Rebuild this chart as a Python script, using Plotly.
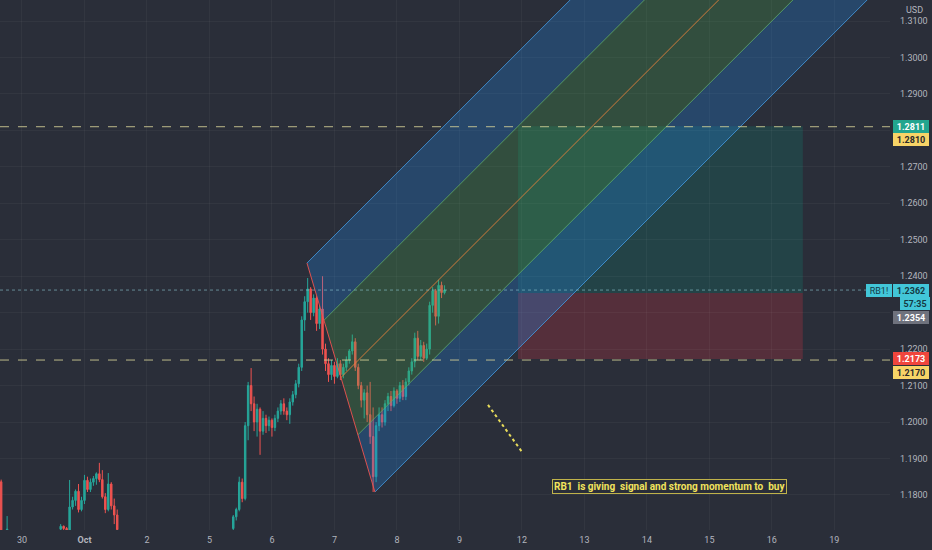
import plotly.graph_objects as go

# ---------------- data ----------------
# x axis = hourly bar index (about 21 bars per trading day)
day_ticks = [0, 21, 42, 63, 84, 105, 126, 147, 168, 189, 210, 231, 252, 273]
day_labels = ["30", "<b>Oct</b>", "2", "5", "6", "7", "8", "9", "12", "13", "14", "15", "16", "19"]

price_ticks = [1.18, 1.19, 1.20, 1.21, 1.22, 1.23, 1.24, 1.25, 1.26, 1.27, 1.28, 1.29, 1.30, 1.31]
price_labels = ["1.1800", "1.1900", "1.2000", "1.2100", "1.2200", "", "1.2400",
                "1.2500", "1.2600", "1.2700", "", "1.2900", "1.3000", "1.3100"]

# segment A (left edge)
bars_a = [-7, -5]
open_a = [1.1836, 1.1700]
high_a = [1.1842, 1.1742]
low_a = [1.1690, 1.1694]
close_a = [1.1700, 1.1706]

# segment B (around Oct 1)
start_b = 13
open_b = [1.1706, 1.1714, 1.1708, 1.1704, 1.1767, 1.1785, 1.1810, 1.1760, 1.1785, 1.1840,
          1.1815, 1.1835, 1.1845, 1.1858, 1.1842, 1.1795, 1.1760, 1.1830, 1.1770, 1.1745]
high_b = [1.1720, 1.1716, 1.1712, 1.1841, 1.1795, 1.1815, 1.1830, 1.1795, 1.1855, 1.1850,
          1.1845, 1.1852, 1.1862, 1.1888, 1.1868, 1.1805, 1.1860, 1.1835, 1.1790, 1.1760]
low_b = [1.1700, 1.1702, 1.1690, 1.1700, 1.1760, 1.1770, 1.1752, 1.1755, 1.1775, 1.1808,
         1.1808, 1.1825, 1.1828, 1.1835, 1.1790, 1.1750, 1.1755, 1.1760, 1.1720, 1.1695]
close_b = [1.1714, 1.1708, 1.1704, 1.1767, 1.1785, 1.1810, 1.1760, 1.1785, 1.1840, 1.1815,
           1.1835, 1.1845, 1.1858, 1.1842, 1.1795, 1.1760, 1.1830, 1.1770, 1.1745, 1.1705]

# segment C (Oct 5 -> Oct 8)
start_c = 71
open_c = [1.1708, 1.1740, 1.1760, 1.1835, 1.1790, 1.1990, 1.2100, 1.2050, 1.2000, 1.2035,
          1.1975, 1.2010, 1.1990, 1.2005, 1.1985, 1.2010, 1.2030, 1.2050, 1.2030, 1.2020,
          1.2055, 1.2075, 1.2105, 1.2150, 1.2280, 1.2330, 1.2365, 1.2300, 1.2340, 1.2270,
          1.2310, 1.2200, 1.2160, 1.2130, 1.2155, 1.2125, 1.2160, 1.2130, 1.2150, 1.2170,
          1.2195, 1.2220, 1.2150, 1.2100, 1.2060, 1.2080, 1.2020, 1.1960, 1.1850, 1.1990,
          1.2020, 1.2000, 1.2050, 1.2070, 1.2045, 1.2085, 1.2065, 1.2100, 1.2070, 1.2110,
          1.2140, 1.2165, 1.2230, 1.2180, 1.2210, 1.2175, 1.2200, 1.2320, 1.2360, 1.2290,
          1.2375, 1.2355]
high_c = [1.1745, 1.1765, 1.1850, 1.1845, 1.2000, 1.2110, 1.2148, 1.2070, 1.2050, 1.2040,
          1.2030, 1.2020, 1.2015, 1.2010, 1.2020, 1.2040, 1.2060, 1.2065, 1.2040, 1.2065,
          1.2085, 1.2115, 1.2160, 1.2290, 1.2345, 1.2395, 1.2370, 1.2350, 1.2345, 1.2320,
          1.2400, 1.2215, 1.2175, 1.2170, 1.2165, 1.2175, 1.2170, 1.2160, 1.2180, 1.2200,
          1.2240, 1.2230, 1.2160, 1.2110, 1.2090, 1.2100, 1.2110, 1.2040, 1.2000, 1.2040,
          1.2040, 1.2060, 1.2080, 1.2085, 1.2095, 1.2090, 1.2110, 1.2115, 1.2120, 1.2150,
          1.2175, 1.2245, 1.2250, 1.2225, 1.2220, 1.2215, 1.2330, 1.2370, 1.2365, 1.2390,
          1.2385, 1.2375]
low_c = [1.1700, 1.1730, 1.1755, 1.1780, 1.1785, 1.1950, 1.2030, 1.1975, 1.1960, 1.1910,
         1.1965, 1.1970, 1.1975, 1.1960, 1.1975, 1.2000, 1.2020, 1.2020, 1.2005, 1.1995,
         1.2045, 1.2065, 1.2095, 1.2140, 1.2250, 1.2300, 1.2280, 1.2290, 1.2250, 1.2255,
         1.2185, 1.2140, 1.2110, 1.2115, 1.2105, 1.2120, 1.2115, 1.2120, 1.2140, 1.2160,
         1.2185, 1.2140, 1.2090, 1.2040, 1.2010, 1.2000, 1.1940, 1.1808, 1.1835, 1.1975,
         1.1985, 1.1990, 1.2030, 1.2030, 1.2040, 1.2050, 1.2055, 1.2060, 1.2060, 1.2100,
         1.2130, 1.2150, 1.2170, 1.2170, 1.2165, 1.2170, 1.2185, 1.2300, 1.2265, 1.2270,
         1.2340, 1.2350]
close_c = [1.1740, 1.1760, 1.1835, 1.1790, 1.1990, 1.2100, 1.2050, 1.2000, 1.2035, 1.1975,
           1.2010, 1.1990, 1.2005, 1.1985, 1.2010, 1.2030, 1.2050, 1.2030, 1.2020, 1.2055,
           1.2075, 1.2105, 1.2150, 1.2280, 1.2330, 1.2365, 1.2300, 1.2340, 1.2270, 1.2310,
           1.2200, 1.2160, 1.2130, 1.2155, 1.2125, 1.2160, 1.2130, 1.2150, 1.2170, 1.2195,
           1.2220, 1.2150, 1.2100, 1.2060, 1.2080, 1.2020, 1.1960, 1.1850, 1.1990, 1.2020,
           1.2000, 1.2050, 1.2070, 1.2045, 1.2085, 1.2065, 1.2100, 1.2070, 1.2110, 1.2140,
           1.2165, 1.2230, 1.2180, 1.2210, 1.2175, 1.2200, 1.2320, 1.2360, 1.2290, 1.2375,
           1.2355, 1.2362]

# pitchfork pivots (bar, price)
pf_p1 = (60.0, 1.1737)
pf_p2 = (95.77, 1.2436)
pf_p3 = (118.6, 1.1808)

# long position tool
pos_x0, pos_x1 = 166.7, 262.4
pos_entry, pos_target, pos_stop = 1.2354, 1.2811, 1.2173

# horizontal levels
hline_levels = [1.2810, 1.2170]
last_price = 1.2362

# dotted yellow trend line
note_line_x = [156.6, 168.3]
note_line_y = [1.2047, 1.1915]
note_text = "RB1\u00a0\u00a0is giving\u00a0\u00a0signal and strong momentum to\u00a0\u00a0buy"
note_pos = (217.7, 1.18218)

# ---------------- styling ----------------
BG = "#2a2e39"
GRID = "rgba(255,255,255,0.04)"
TXT = "#b2b5be"
UP = "#26a69a"
DOWN = "#ef5350"
FONT = "Roboto"

bars = bars_a + list(range(start_b, start_b + len(open_b))) + list(range(start_c, start_c + len(open_c)))
opens = open_a + open_b + open_c
highs = high_a + high_b + high_c
lows = low_a + low_b + low_c
closes = close_a + close_b + close_c

fig = go.Figure()

# pitchfork geometry
mx = (pf_p2[0] + pf_p3[0]) / 2
my = (pf_p2[1] + pf_p3[1]) / 2
dx = mx - pf_p1[0]
dy = my - pf_p1[1]
EXT = 400.0 / dx


def on_seg(t):
    return (pf_p2[0] + t * (pf_p3[0] - pf_p2[0]), pf_p2[1] + t * (pf_p3[1] - pf_p2[1]))


def ext(pt):
    return (pt[0] + EXT * dx, pt[1] + EXT * dy)


def band(t0, t1, color):
    a, b = on_seg(t0), on_seg(t1)
    ea, eb = ext(a), ext(b)
    fig.add_trace(go.Scatter(x=[a[0], ea[0], eb[0], b[0], a[0]], y=[a[1], ea[1], eb[1], b[1], a[1]],
                             fill="toself", fillcolor=color, line=dict(width=0), mode="lines",
                             hoverinfo="skip", showlegend=False))


band(0.0, 0.25, "rgba(33,140,240,0.27)")
band(0.25, 0.75, "rgba(76,175,80,0.25)")
band(0.75, 1.0, "rgba(33,140,240,0.27)")

# position tool
fig.add_shape(type="rect", x0=pos_x0, x1=pos_x1, y0=pos_entry, y1=pos_target,
              fillcolor="rgba(8,153,129,0.2)", line=dict(width=0), layer="below")
fig.add_shape(type="rect", x0=pos_x0, x1=pos_x1, y0=pos_stop, y1=pos_entry,
              fillcolor="rgba(242,54,69,0.22)", line=dict(width=0), layer="below")

fig.add_trace(go.Candlestick(x=bars, open=opens, high=highs, low=lows, close=closes,
                             increasing=dict(line=dict(color=UP, width=1), fillcolor=UP),
                             decreasing=dict(line=dict(color=DOWN, width=1), fillcolor=DOWN),
                             whiskerwidth=0, hoverinfo="skip", showlegend=False))

# pitchfork lines
for t, col in [(0.0, "rgba(66,150,220,0.85)"), (0.25, "rgba(100,180,110,0.75)"),
               (0.5, "rgba(235,130,60,0.85)"), (0.75, "rgba(100,180,110,0.75)"),
               (1.0, "rgba(66,150,220,0.85)")]:
    a = on_seg(t)
    e = ext(a)
    fig.add_trace(go.Scatter(x=[a[0], e[0]], y=[a[1], e[1]], mode="lines",
                             line=dict(color=col, width=1), hoverinfo="skip", showlegend=False))
fig.add_trace(go.Scatter(x=[pf_p2[0], pf_p3[0]], y=[pf_p2[1], pf_p3[1]], mode="lines",
                         line=dict(color="rgba(239,83,80,0.9)", width=1), hoverinfo="skip", showlegend=False))

# horizontal lines
for lv in hline_levels:
    fig.add_shape(type="line", xref="paper", x0=0, x1=1, y0=lv, y1=lv,
                  line=dict(color="rgba(215,210,150,0.85)", width=1, dash="dash"))
fig.add_shape(type="line", xref="paper", x0=0, x1=1, y0=last_price, y1=last_price,
              line=dict(color="rgba(140,200,210,0.6)", width=1, dash="dot"))

# dotted note line
fig.add_trace(go.Scatter(x=note_line_x, y=note_line_y, mode="lines",
                         line=dict(color="#e8dc5a", width=2, dash="dot"), hoverinfo="skip", showlegend=False))

fig.add_annotation(x=note_pos[0], y=note_pos[1], text="<b>" + note_text + "</b>", showarrow=False,
                   font=dict(family=FONT, size=10, color="#f2e35c"), bgcolor=BG,
                   bordercolor="#bfb24a", borderwidth=1, borderpad=1)

# right side price labels
def plabel(y, text, bg, fg, xshift=3, width=36, anchor="left"):
    fig.add_annotation(x=1, xref="paper", y=y, yref="y", text=text, showarrow=False,
                       xanchor=anchor, yanchor="middle", xshift=xshift, width=width, height=13,
                       bgcolor=bg, borderpad=0, borderwidth=0, align="center",
                       font=dict(family=FONT, size=9, color=fg))

plabel(1.2811, "<b>1.2811</b>", "#22a58e", "#ffffff")
plabel(1.2775, "<b>1.2810</b>", "#f7d467", "#2a2a2a")
plabel(1.2362, "<b>1.2362</b>", "#42c6d8", "#153a44")
plabel(1.2362, "RB1!", "#42c6d8", "#153a44", xshift=2, width=26, anchor="right")
plabel(1.2324, "<b>57:35</b>", "#42c6d8", "#153a44", xshift=10, width=30)
plabel(1.2286, "<b>1.2354</b>", "#6f727d", "#ffffff")
plabel(1.2173, "<b>1.2173</b>", "#f0453c", "#ffffff")
plabel(1.2136, "<b>1.2170</b>", "#f7d467", "#2a2a2a")

fig.add_annotation(x=1, xref="paper", y=1, yref="paper", text="USD", showarrow=False,
                   xanchor="left", yanchor="top", xshift=14, yshift=-3,
                   font=dict(family=FONT, size=9, color=TXT))

fig.update_layout(
    width=932, height=550,
    margin=dict(l=0, r=42, t=0, b=20),
    paper_bgcolor=BG, plot_bgcolor=BG,
    showlegend=False,
    font=dict(family=FONT, size=9, color=TXT),
    xaxis=dict(range=[-7.39, 291.7], tickvals=day_ticks, ticktext=day_labels,
               showgrid=True, gridcolor=GRID, zeroline=False, showline=False,
               rangeslider=dict(visible=False), ticks="", tickfont=dict(size=9, color=TXT),
               ticklabelstandoff=3, fixedrange=True),
    yaxis=dict(range=[1.17038, 1.31576], side="right", tickvals=price_ticks, ticktext=price_labels,
               showgrid=True, gridcolor=GRID, zeroline=False, showline=False, ticks="",
               tickfont=dict(size=9, color=TXT), ticklabelstandoff=9, fixedrange=True),
)

fig.write_html("out.html", config={"displayModeBar": False},
               post_script="document.body.style.margin='0px';document.body.style.background='#2a2e39';document.body.style.overflow='hidden';")
